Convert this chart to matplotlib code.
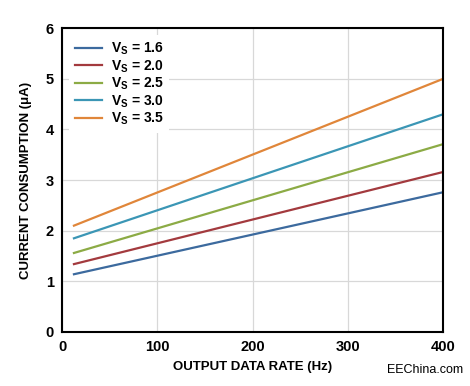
import numpy as np
import matplotlib
matplotlib.use("Agg")
import matplotlib.pyplot as plt

plt.rcParams['font.family'] = ['Liberation Sans', 'DejaVu Sans']
plt.rcParams['mathtext.fontset'] = 'custom'
plt.rcParams['mathtext.rm'] = 'Liberation Sans:bold'

# data
rate = [12.5, 400]
supply = ["1.6", "2.0", "2.5", "3.0", "3.5"]
current_start = [1.14, 1.34, 1.56, 1.85, 2.10]
current_end = [2.76, 3.16, 3.71, 4.30, 5.00]
colors = ["#3c6a9e", "#a33a3e", "#8cab45", "#3b96b5", "#e0863a"]

fig = plt.figure(figsize=(4.7, 3.86), dpi=100)
ax = fig.add_axes([0.132, 0.140, 0.811, 0.787])

for v, y0, y1, c in zip(supply, current_start, current_end, colors):
    ax.plot(rate, [y0, y1], color=c, lw=1.6,
            label="V$_\\mathregular{S}$ = " + v)

ax.set_xlim(0, 400)
ax.set_ylim(0, 6)
ax.set_xticks([0, 100, 200, 300, 400])
ax.set_yticks(range(7))
ax.grid(color="#d8d8d8", lw=0.9)
ax.set_axisbelow(True)
for s in ax.spines.values():
    s.set_linewidth(1.5)
    s.set_color("black")
ax.tick_params(length=0, labelsize=10.5, pad=6)
for lab in ax.get_xticklabels() + ax.get_yticklabels():
    lab.set_fontweight("bold")

ax.set_xlabel("OUTPUT DATA RATE (Hz)", fontsize=9.5, fontweight="bold", labelpad=5)
ax.set_ylabel("CURRENT CONSUMPTION (\u03bcA)", fontsize=9.5, fontweight="bold", labelpad=10)

leg = ax.legend(loc="upper left", frameon=True, fontsize=10, handlelength=2.0,
                labelspacing=0.08, borderaxespad=0.5, handletextpad=0.6)
leg.get_frame().set_edgecolor("none")
leg.get_frame().set_alpha(1)
for t in leg.get_texts():
    t.set_fontweight("bold")

fig.text(0.985, 0.025, "EEChina.com", ha="right", va="bottom", fontsize=9)

fig.savefig("out.png", dpi=100)
